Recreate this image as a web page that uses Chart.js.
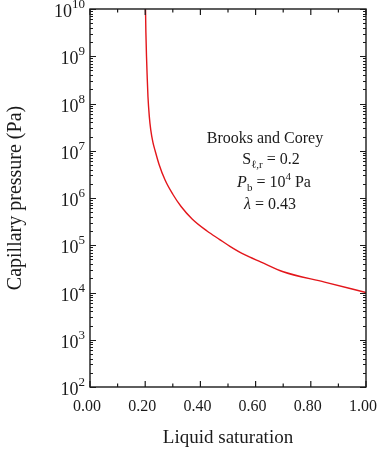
<!DOCTYPE html>
<html>
<head>
<meta charset="utf-8">
<script src="https://cdn.jsdelivr.net/npm/chart.js@4/dist/chart.umd.min.js"></script>
<style>
  html, body { margin: 0; padding: 0; background: #fff; }
</style>
</head>
<body>
<canvas id="chart" width="377" height="451"></canvas>
<script>
// values (Brooks and Corey curve)
const saturation = [0.201, 0.2025, 0.2047, 0.207, 0.21, 0.215, 0.22, 0.228, 0.236, 0.25, 0.272, 0.30, 0.33, 0.37, 0.424, 0.47, 0.507, 0.56, 0.62, 0.70, 0.85, 1.00];
const pressure = [1.1e10, 3.2e9, 1.0e9, 4.0e8, 1.4e8, 5.2e7, 2.8e7, 1.5e7, 1.0e7, 5.2e6, 2.4e6, 1.2e6, 6.6e5, 3.6e5, 2.0e5, 1.32e5, 9.5e4, 6.3e4, 4.4e4, 2.75e4, 1.66e4, 1.0e4];

const xTickValues = [0, 0.2, 0.4, 0.6, 0.8, 1.0];
const yExponents = [2, 3, 4, 5, 6, 7, 8, 9, 10];

const serif = '"Liberation Serif", "Times New Roman", serif';
const ink = '#1a1a1a';

// inward ticks on all four sides, the frame, the 10^n labels and the note
const decorPlugin = {
  id: 'decor',
  afterDraw(chart) {
    const { ctx, chartArea: a, scales: { x, y } } = chart;
    ctx.save();
    ctx.strokeStyle = ink;
    ctx.lineWidth = 1.4;
    ctx.strokeRect(a.left, a.top, a.right - a.left, a.bottom - a.top);

    ctx.beginPath();
    ctx.lineWidth = 1.2;
    for (let i = 0; i <= 10; i++) {
      const px = x.getPixelForValue(i / 10);
      const len = i % 2 === 0 ? 6 : 3.5;
      ctx.moveTo(px, a.bottom); ctx.lineTo(px, a.bottom - len);
      ctx.moveTo(px, a.top); ctx.lineTo(px, a.top + len);
    }
    for (const e of yExponents) {
      for (let m = 1; m < 10; m++) {
        const v = m * Math.pow(10, e);
        if (v > y.max) break;
        const py = Math.round(y.getPixelForValue(v)) + 0.5;
        const len = m === 1 ? 6 : 3;
        ctx.moveTo(a.left, py); ctx.lineTo(a.left + len, py);
        ctx.moveTo(a.right, py); ctx.lineTo(a.right - len, py);
      }
    }
    ctx.stroke();

    // y labels: 10 with a raised exponent
    ctx.fillStyle = ink;
    ctx.textBaseline = 'alphabetic';
    ctx.textAlign = 'left';
    const right = a.left - 5;
    yExponents.forEach(e => {
      const py = y.getPixelForValue(Math.pow(10, e));
      ctx.font = '13px ' + serif;
      const ew = ctx.measureText(String(e)).width;
      ctx.font = '18px ' + serif;
      const bw = ctx.measureText('10').width;
      ctx.fillText('10', right - ew - bw, py + 8);
      ctx.font = '13px ' + serif;
      ctx.fillText(String(e), right - ew, py - 1);
    });

    // parameter note
    const lines = [
      { cx: 265, y: 143, runs: [['Brooks and Corey', 16, 0, '']] },
      { cx: 271, y: 164, runs: [['S', 16, 0, ''], ['\u2113,r', 11, 4, ''], [' = 0.2', 16, 0, '']] },
      { cx: 274, y: 187, runs: [['P', 16, 0, 'italic '], ['b', 11, 4, ''], [' = 10', 16, 0, ''], ['4', 11, -7, ''], [' Pa', 16, 0, '']] },
      { cx: 270, y: 209, runs: [['\u03bb', 16, 0, 'italic '], [' = 0.43', 16, 0, '']] }
    ];
    lines.forEach(line => {
      let total = 0;
      line.runs.forEach(r => { ctx.font = r[3] + r[1] + 'px ' + serif; total += ctx.measureText(r[0]).width; });
      let cx = line.cx - total / 2;
      line.runs.forEach(r => {
        ctx.font = r[3] + r[1] + 'px ' + serif;
        ctx.fillText(r[0], cx, line.y + r[2]);
        cx += ctx.measureText(r[0]).width;
      });
    });
    ctx.restore();
  }
};

new Chart(document.getElementById('chart'), {
  type: 'line',
  data: {
    datasets: [{
      data: saturation.map((s, i) => ({ x: s, y: pressure[i] })),
      borderColor: '#e3161b',
      borderWidth: 1.4,
      pointRadius: 0,
      cubicInterpolationMode: 'monotone',
      fill: false
    }]
  },
  options: {
    responsive: false,
    animation: false,
    devicePixelRatio: 1,
    layout: { padding: { top: 9, right: 11, left: 0, bottom: 0 } },
    plugins: { legend: { display: false }, tooltip: { enabled: false } },
    scales: {
      x: {
        type: 'linear',
        min: 0,
        max: 1,
        afterBuildTicks: scale => { scale.ticks = xTickValues.map(v => ({ value: v })); },
        afterFit: scale => { scale.height = 64; scale.paddingLeft = 0; scale.paddingRight = 0; },
        ticks: {
          callback: v => Number(v).toFixed(2),
          color: ink,
          font: { family: serif, size: 16 },
          padding: 10,
          labelOffset: -3,
          maxRotation: 0
        },
        grid: { display: false, drawTicks: false },
        border: { display: false },
        title: {
          display: true,
          text: 'Liquid saturation',
          color: ink,
          font: { family: serif, size: 19 },
          padding: { top: 0, bottom: 2 }
        }
      },
      y: {
        type: 'logarithmic',
        min: 1e2,
        max: 1e10,
        afterFit: scale => { scale.width = 90; scale.paddingTop = 0; scale.paddingBottom = 0; },
        ticks: { display: false },
        grid: { display: false, drawTicks: false },
        border: { display: false },
        title: {
          display: true,
          text: 'Capillary pressure (Pa)',
          color: ink,
          font: { family: serif, size: 20 },
          padding: { top: 4, bottom: 0 }
        }
      }
    }
  },
  plugins: [decorPlugin]
});
</script>
</body>
</html>
